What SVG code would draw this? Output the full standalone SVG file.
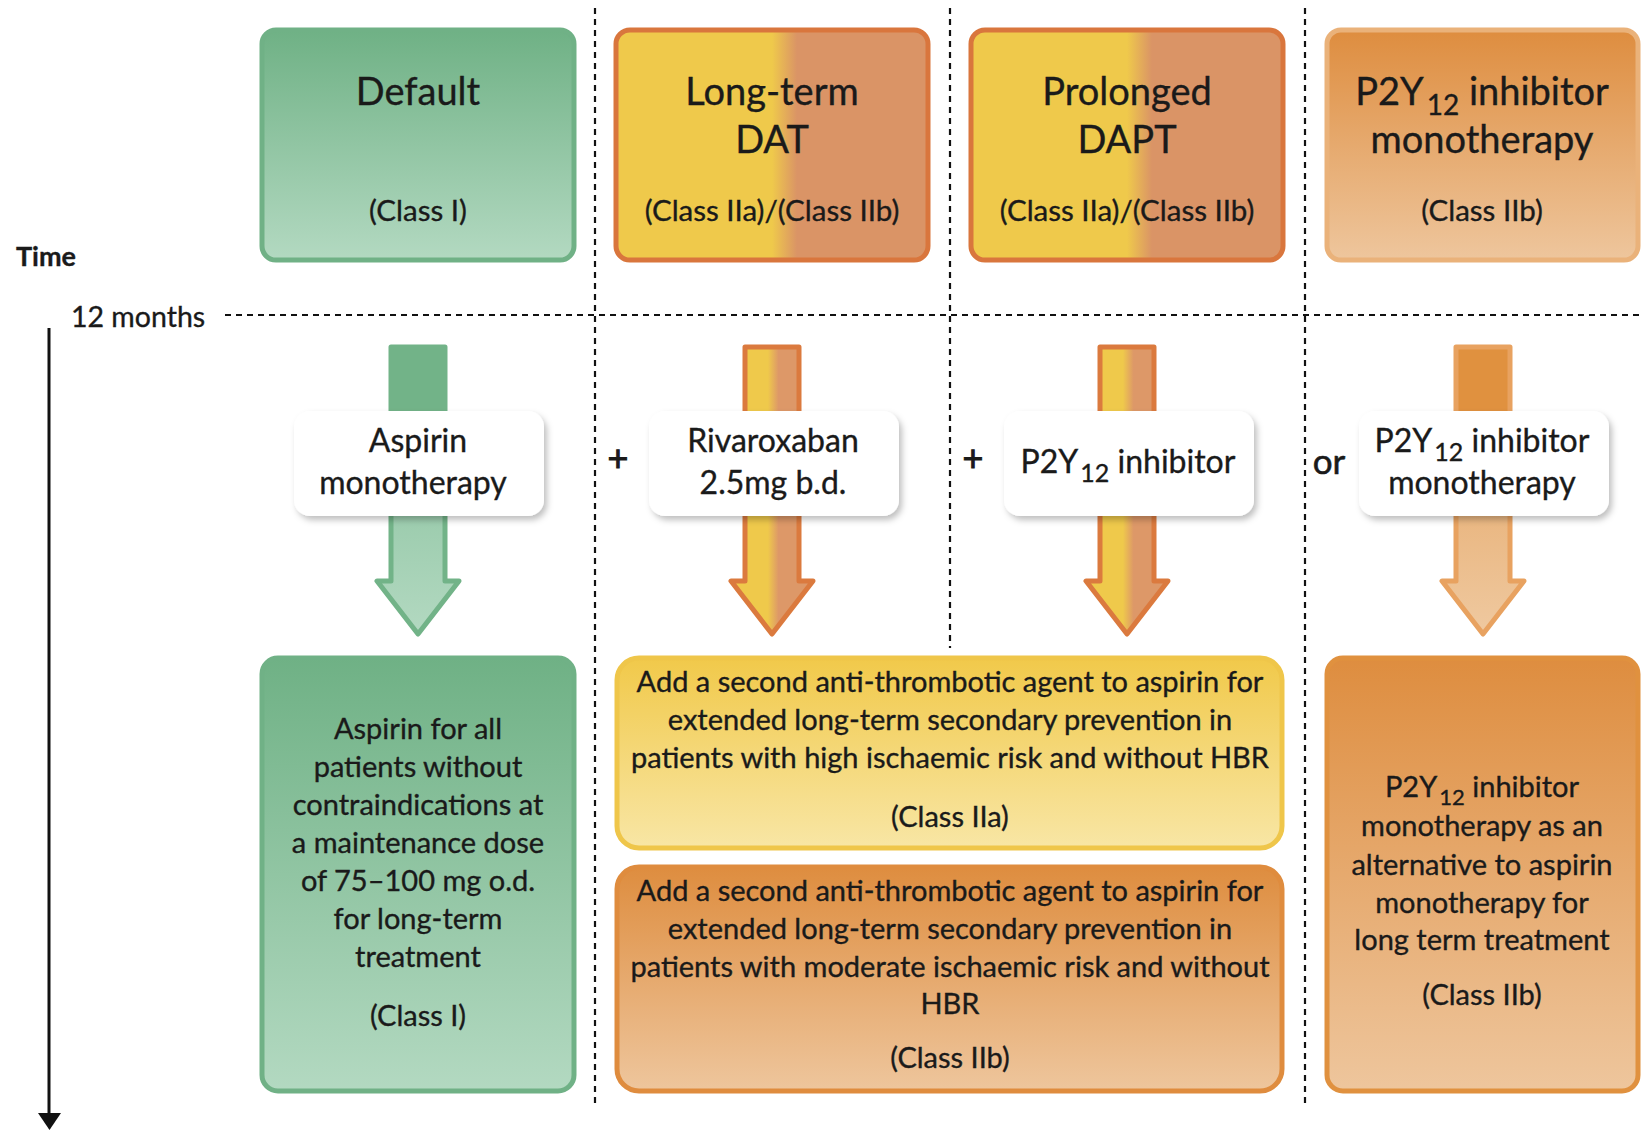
<svg xmlns="http://www.w3.org/2000/svg" width="1641" height="1130" viewBox="0 0 1641 1130">
<defs>
<style>
text{font-family:"Lato","Open Sans",sans-serif;fill:#1a1a1a;text-anchor:middle;stroke:#1a1a1a;stroke-width:0.35}
.h{font-size:38px}
.c{font-size:29.5px}
.b{font-size:29px}
.l{font-size:32px}
.dot{stroke:#111;stroke-width:2.2;stroke-dasharray:6 5;fill:none}
.lab{fill:#fff;filter:url(#sh)}
.ar{stroke-width:5;stroke-linejoin:round}
</style>
<linearGradient id="gGreen" x1="0" y1="0" x2="0" y2="1"><stop offset="0" stop-color="#6fb185"/><stop offset="1" stop-color="#b3d9c1"/></linearGradient>
<linearGradient id="gSplit" x1="0" y1="0" x2="1" y2="0"><stop offset="0.5" stop-color="#efc94b"/><stop offset="0.58" stop-color="#da9466"/></linearGradient>
<linearGradient id="gSplitA" x1="0" y1="0" x2="1" y2="0"><stop offset="0.45" stop-color="#efc94b"/><stop offset="0.58" stop-color="#dd9868"/></linearGradient>
<linearGradient id="gOr" x1="0" y1="0" x2="0" y2="1"><stop offset="0" stop-color="#de8d3f"/><stop offset="1" stop-color="#eec69d"/></linearGradient>
<linearGradient id="gYel" x1="0" y1="0" x2="0" y2="1"><stop offset="0" stop-color="#f1c94a"/><stop offset="1" stop-color="#f8e6a5"/></linearGradient>
<linearGradient id="gArG" x1="0" y1="347" x2="0" y2="634" gradientUnits="userSpaceOnUse"><stop offset="0.25" stop-color="#72b388"/><stop offset="0.3" stop-color="#8cc3a0"/><stop offset="1" stop-color="#b3d9c1"/></linearGradient>
<linearGradient id="gArO" x1="0" y1="347" x2="0" y2="634" gradientUnits="userSpaceOnUse"><stop offset="0.25" stop-color="#e0913f"/><stop offset="0.3" stop-color="#e6aa6c"/><stop offset="1" stop-color="#efc9a0"/></linearGradient>
<filter id="sh" x="-10%" y="-15%" width="125%" height="140%"><feDropShadow dx="3" dy="4" stdDeviation="3" flood-color="#000" flood-opacity="0.25"/></filter>
</defs>

<g id="grid">
<line class="dot" x1="225" y1="315" x2="1639" y2="315"/>
<line class="dot" x1="595" y1="8" x2="595" y2="1107"/>
<line class="dot" x1="950" y1="8" x2="950" y2="648"/>
<line class="dot" x1="1305" y1="8" x2="1305" y2="1107"/>
</g>

<g id="time">
<text x="16" y="266" style="font-size:27px;font-weight:bold;text-anchor:start">Time</text>
<text x="71" y="327" style="font-size:28.5px;text-anchor:start">12 months</text>
<line x1="49" y1="328" x2="49" y2="1115" stroke="#111" stroke-width="3"/>
<polygon points="38,1113 61,1113 49.5,1130" fill="#111"/>
</g>

<g id="connectors">
<path class="ar" d="M391,347 H445 V581 H459 L418,634 L377,581 H391 Z" fill="url(#gArG)" stroke="#72b388"/>
<path class="ar" d="M745,347 H799 V581 H813 L772,634 L731,581 H745 Z" fill="url(#gSplitA)" stroke="#db7a3e"/>
<path class="ar" d="M1100,347 H1154 V581 H1168 L1127,634 L1086,581 H1100 Z" fill="url(#gSplitA)" stroke="#db7a3e"/>
<path class="ar" d="M1456,347 H1510 V581 H1524 L1483,634 L1442,581 H1456 Z" fill="url(#gArO)" stroke="#e8a260"/>
</g>

<g id="default">
<rect x="262" y="30" width="312" height="230" rx="14" fill="url(#gGreen)" stroke="#70b186" stroke-width="5"/>
<text class="h" x="418" y="105">Default</text>
<text class="c" x="418" y="221">(Class I)</text>
</g>
<g id="longterm">
<rect x="616" y="30" width="312" height="230" rx="14" fill="url(#gSplit)" stroke="#d9763d" stroke-width="5"/>
<text class="h" x="772" y="105">Long-term</text>
<text class="h" x="772" y="153">DAT</text>
<text class="c" x="772" y="221">(Class IIa)/(Class IIb)</text>
</g>
<g id="prolonged">
<rect x="971" y="30" width="312" height="230" rx="14" fill="url(#gSplit)" stroke="#d9763d" stroke-width="5"/>
<text class="h" x="1127" y="105">Prolonged</text>
<text class="h" x="1127" y="153">DAPT</text>
<text class="c" x="1127" y="221">(Class IIa)/(Class IIb)</text>
</g>
<g id="p2y12mono">
<rect x="1327" y="30" width="311" height="230" rx="14" fill="url(#gOr)" stroke="#eab27a" stroke-width="5"/>
<text class="h" x="1482" y="105">P2Y<tspan style="font-size:28px" dx="3" dy="10">12</tspan><tspan dy="-10"> inhibitor</tspan></text>
<text class="h" x="1482" y="153">monotherapy</text>
<text class="c" x="1482" y="221">(Class IIb)</text>
</g>

<g id="lab-aspirin">
<rect class="lab" x="294" y="411" width="250" height="105" rx="16"/>
<text class="l" x="418" y="452">Aspirin</text>
<text class="l" x="413" y="494">monotherapy</text>
</g>
<g id="lab-rivaroxaban">
<rect class="lab" x="649" y="411" width="250" height="105" rx="16"/>
<text class="l" x="773" y="452">Rivaroxaban</text>
<text class="l" x="773" y="494">2.5mg b.d.</text>
</g>
<g id="lab-p2y12">
<rect class="lab" x="1004" y="411" width="250" height="105" rx="16"/>
<text class="l" x="1128" y="473">P2Y<tspan style="font-size:25px" dx="2" dy="9">12</tspan><tspan dy="-9"> inhibitor</tspan></text>
</g>
<g id="lab-p2y12mono">
<rect class="lab" x="1359" y="411" width="250" height="105" rx="16"/>
<text class="l" x="1482" y="452">P2Y<tspan style="font-size:25px" dx="2" dy="9">12</tspan><tspan dy="-9"> inhibitor</tspan></text>
<text class="l" x="1482" y="494">monotherapy</text>
</g>
<g id="ops">
<text x="618" y="471" style="font-size:36px;stroke-width:1">+</text>
<text x="973" y="471" style="font-size:36px;stroke-width:1">+</text>
<text x="1329" y="474" style="font-size:35px;stroke-width:0.6">or</text>
</g>

<g id="aspirin-all">
<rect x="262" y="658" width="312" height="433" rx="16" fill="url(#gGreen)" stroke="#70b186" stroke-width="5"/>
<text class="b" x="418" y="739">Aspirin for all</text>
<text class="b" x="418" y="777">patients without</text>
<text class="b" x="418" y="815">contraindications at</text>
<text class="b" x="418" y="853">a maintenance dose</text>
<text class="b" x="418" y="891">of 75–100 mg o.d.</text>
<text class="b" x="418" y="929">for long-term</text>
<text class="b" x="418" y="967">treatment</text>
<text class="b" x="418" y="1026">(Class I)</text>
</g>
<g id="high-risk">
<rect x="617" y="658" width="665" height="190" rx="22" fill="url(#gYel)" stroke="#efc64a" stroke-width="5"/>
<text class="b" x="950" y="692">Add a second anti-thrombotic agent to aspirin for</text>
<text class="b" x="950" y="730">extended long-term secondary prevention in</text>
<text class="b" x="950" y="768">patients with high ischaemic risk and without HBR</text>
<text class="b" x="950" y="827">(Class IIa)</text>
</g>
<g id="moderate-risk">
<rect x="617" y="867" width="665" height="224" rx="22" fill="url(#gOr)" stroke="#df8c3e" stroke-width="5"/>
<text class="b" x="950" y="901">Add a second anti-thrombotic agent to aspirin for</text>
<text class="b" x="950" y="939">extended long-term secondary prevention in</text>
<text class="b" x="950" y="977">patients with moderate ischaemic risk and without</text>
<text class="b" x="950" y="1014">HBR</text>
<text class="b" x="950" y="1068">(Class IIb)</text>
</g>
<g id="p2y12-alt">
<rect x="1327" y="658" width="311" height="433" rx="16" fill="url(#gOr)" stroke="#e0913f" stroke-width="5"/>
<text class="b" x="1482" y="797">P2Y<tspan style="font-size:22px" dx="2" dy="8">12</tspan><tspan dy="-8"> inhibitor</tspan></text>
<text class="b" x="1482" y="836">monotherapy as an</text>
<text class="b" x="1482" y="875">alternative to aspirin</text>
<text class="b" x="1482" y="913">monotherapy for</text>
<text class="b" x="1482" y="950">long term treatment</text>
<text class="b" x="1482" y="1005">(Class IIb)</text>
</g>
</svg>
